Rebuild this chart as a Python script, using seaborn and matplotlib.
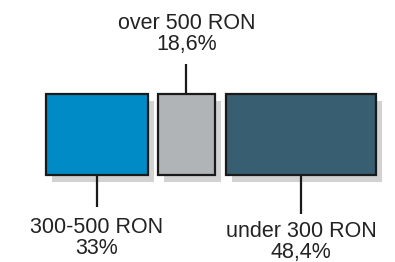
import matplotlib
matplotlib.use("Agg")
import matplotlib.pyplot as plt
import seaborn as sns

categories = ["300-500 RON", "over 500 RON", "under 300 RON"]
values = [33.0, 18.6, 48.4]
value_labels = ["33%", "18,6%", "48,4%"]
colors = ["#008bc6", "#b1b4b7", "#375f71"]

sns.set_theme(style="white")
plt.rcParams["font.family"] = ["Liberation Sans", "DejaVu Sans"]

W, H = 395, 262
fig = plt.figure(figsize=(W / 100, H / 100), dpi=100)
ax = fig.add_axes([0, 0, 1, 1])
px = 3.09  # pixels per percent unit
x0 = 45.7
ax.set_xlim(-x0 / px, (W - x0) / px)
ax.set_ylim(H, 0)
ax.axis("off")

gaps = [0, 10 / px, 11 / px]
top, bottom = 93.5, 175.0
sh_dx, sh_dy = 6 / px, 7
lefts = []
pos = 0.0
for i, v in enumerate(values):
    pos += gaps[i]
    lefts.append(pos)
    pos += v

# shadows
ax.bar([l + sh_dx for l in lefts], [bottom - top] * 3, width=values,
       bottom=[top + sh_dy] * 3, align="edge", color="#d2d2d2",
       edgecolor="none", zorder=1)
# boxes
ax.bar(lefts, [bottom - top] * 3, width=values, bottom=[top] * 3,
       align="edge", color=colors, edgecolor="#1a1a1a", linewidth=1.6,
       zorder=2)

label_pos = ["below", "above", "below"]
fs = 15.5
for i, (l, v) in enumerate(zip(lefts, values)):
    cx = l + v / 2
    txt = f"{categories[i]}\n{value_labels[i]}"
    if label_pos[i] == "above":
        ax.plot([cx, cx], [64, top], color="#1a1a1a", lw=1.6, zorder=3,
                solid_capstyle="butt")
        ax.text(cx, 34, txt, ha="center", va="center", fontsize=fs,
                color="#222222", linespacing=1.0)
    else:
        yend = 207 if i == 0 else 214
        ax.plot([cx, cx], [bottom, yend], color="#1a1a1a", lw=1.6, zorder=3,
                solid_capstyle="butt")
        yc = 238 if i == 0 else 242
        ax.text(cx, yc, txt, ha="center", va="center", fontsize=fs,
                color="#222222", linespacing=1.0)

fig.savefig("out.png", dpi=100)
